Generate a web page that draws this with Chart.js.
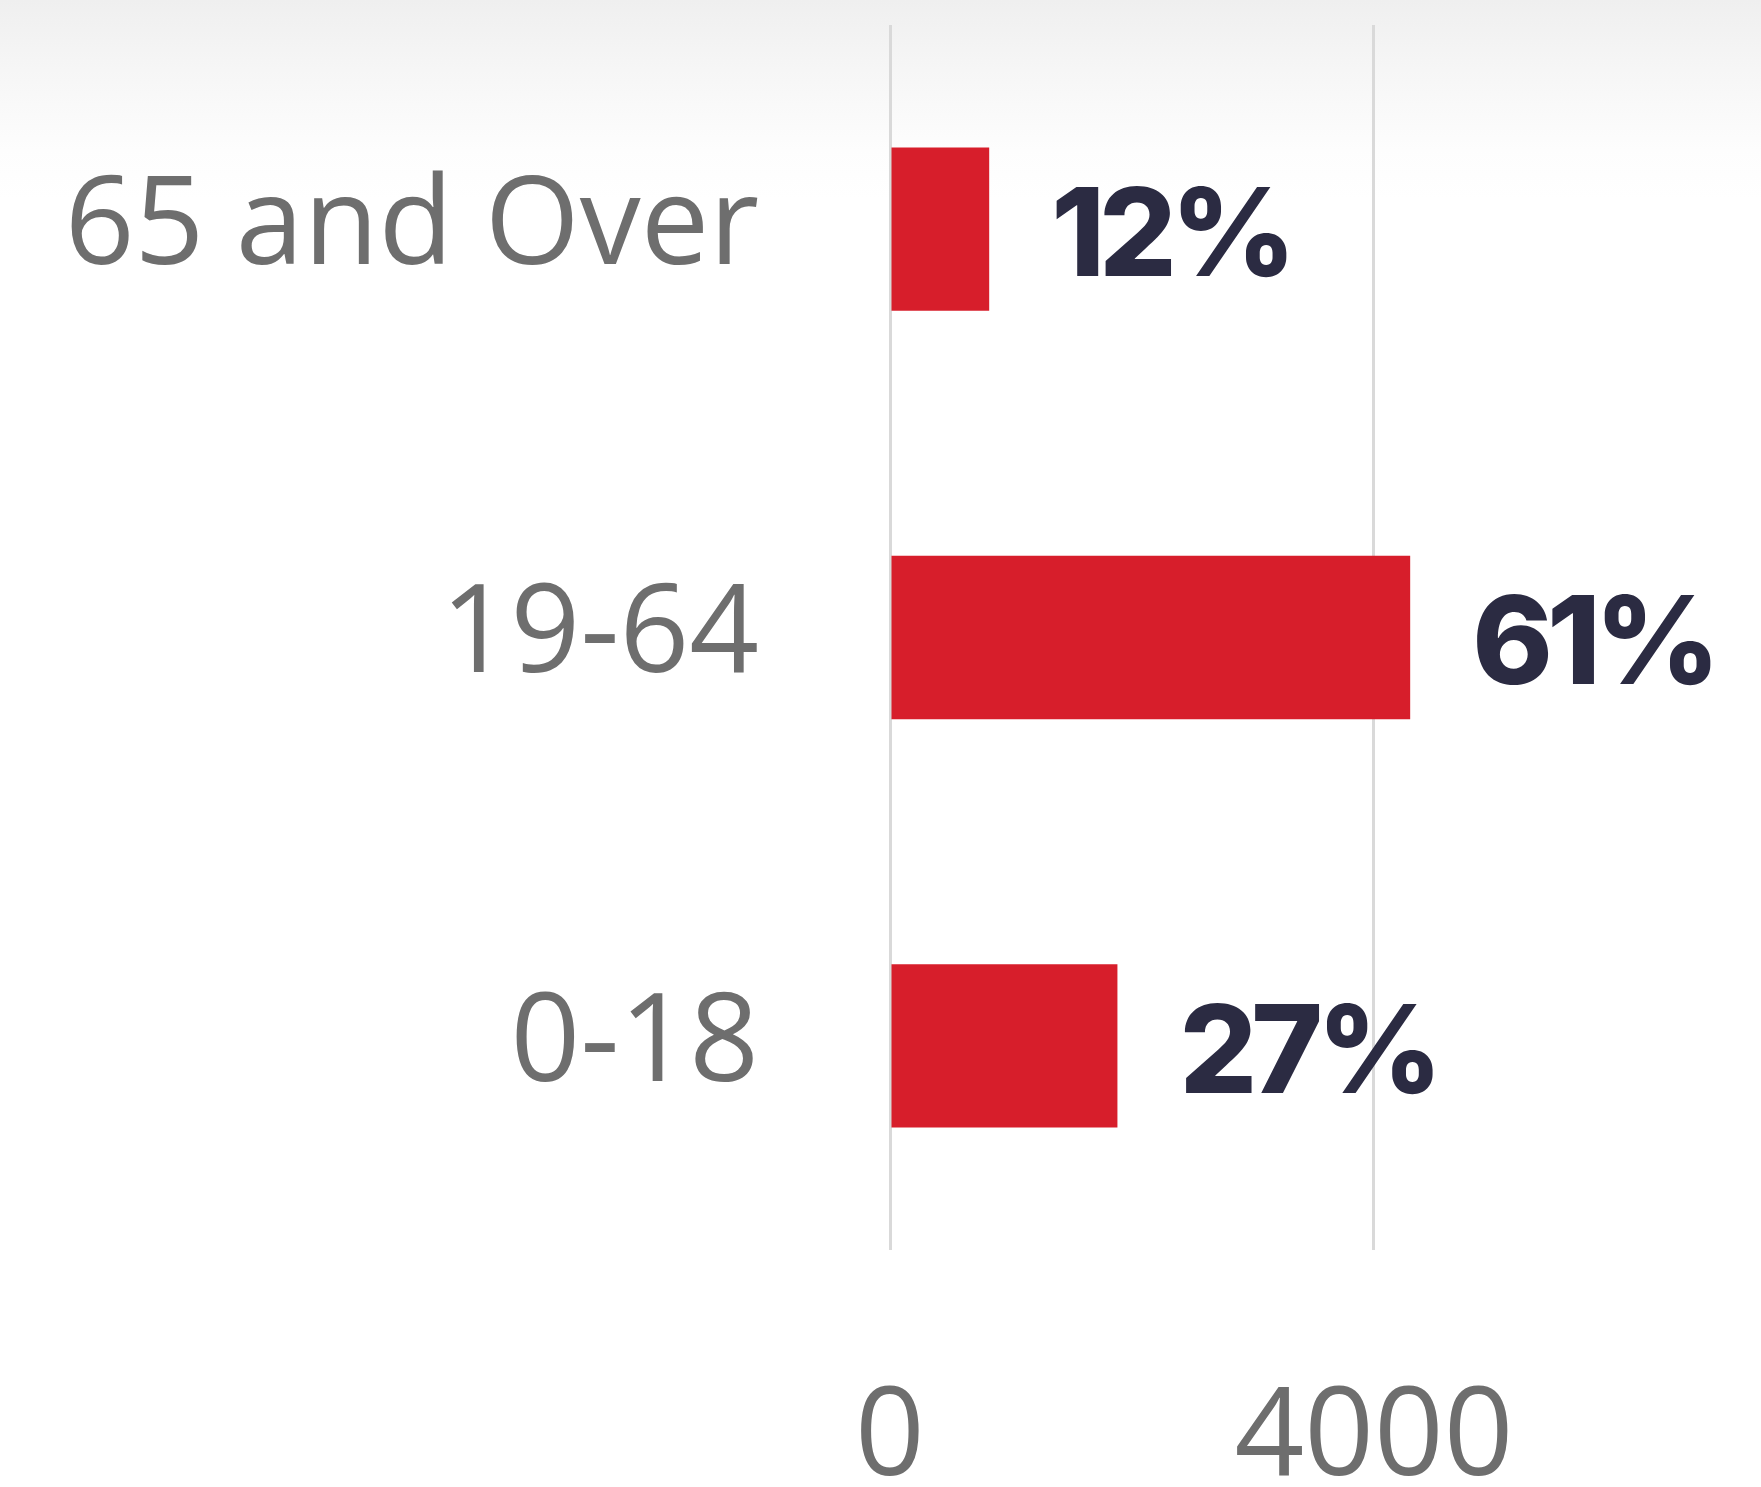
<!DOCTYPE html>
<html>
<head>
<meta charset="utf-8">
<script src="https://cdn.jsdelivr.net/npm/chart.js@4"></script>
<style>
    html, body {
        margin: 0;
        padding: 0;
        background: #ffffff;
    }
    .wrap {
        width: 1761px;
        height: 1487px;
        background: linear-gradient(to bottom, #efefef 0px, #f6f6f6 70px, #fdfdfd 150px, #ffffff 200px);
    }
</style>
</head>
<body>
<div class="wrap">
    <canvas id="ageChart" width="1761" height="1487"></canvas>
</div>
<script>
// Age groups, top to bottom
const ageGroups = ['65 and Over', '19-64', '0-18'];
const populationValues = [820, 4300, 1880];
const shareLabels = ['12%', '61%', '27%'];
const xTicks = [0, 4000];

// Percent labels to the right of each bar
const shareLabelPlugin = {
    id: 'shareLabels',
    afterDatasetsDraw(chart) {
        const ctx = chart.ctx;
        const meta = chart.getDatasetMeta(0);
        ctx.save();
        ctx.font = '800 122px Inter';
        ctx.letterSpacing = '-6px';
        ctx.fillStyle = '#2b2b42';
        ctx.textAlign = 'left';
        ctx.textBaseline = 'middle';
        meta.data.forEach((bar, i) => {
            ctx.fillText(shareLabels[i], bar.x + 62, bar.y + 10);
        });
        ctx.restore();
    }
};

// scales add half a label + padding above/below the chart area; drop that
const noScalePadding = scale => {
    scale.paddingTop = 0;
    scale.paddingBottom = 0;
    scale.paddingLeft = 0;
    scale.paddingRight = 0;
};

const ctx = document.getElementById('ageChart').getContext('2d');
new Chart(ctx, {
    type: 'bar',
    data: {
        labels: ageGroups,
        datasets: [{
            data: populationValues,
            backgroundColor: '#d71e2b',
            borderWidth: 0,
            categoryPercentage: 0.4,
            barPercentage: 1
        }]
    },
    options: {
        indexAxis: 'y',
        responsive: false,
        animation: false,
        layout: {
            padding: { top: 25, right: 0, bottom: 0, left: 0 }
        },
        scales: {
            x: {
                min: 0,
                max: 7200,
                afterBuildTicks: axis => {
                    axis.ticks = xTicks.map(v => ({ value: v }));
                },
                afterFit: scale => {
                    scale.height = 237;
                    noScalePadding(scale);
                },
                border: { display: false },
                grid: {
                    color: '#d9d9d9',
                    lineWidth: 3,
                    drawTicks: false
                },
                ticks: {
                    padding: 117,
                    color: '#6e6e6e',
                    font: { family: 'Open Sans', size: 122 },
                    callback: value => String(value)
                }
            },
            y: {
                afterFit: scale => {
                    scale.width = 890;
                    noScalePadding(scale);
                },
                border: { display: false },
                grid: { display: false, drawTicks: false },
                ticks: {
                    padding: 131,
                    color: '#6e6e6e',
                    font: { family: 'Open Sans', size: 122 }
                }
            }
        },
        plugins: {
            legend: { display: false },
            tooltip: { enabled: false }
        }
    },
    plugins: [shareLabelPlugin]
});
</script>
</body>
</html>
